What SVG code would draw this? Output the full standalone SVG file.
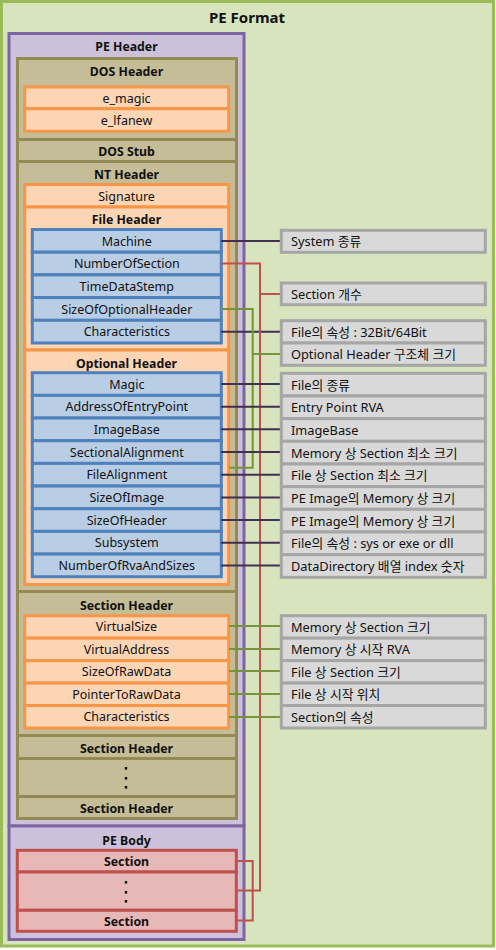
<svg xmlns="http://www.w3.org/2000/svg" width="496" height="950" viewBox="0 0 496 950">
<style>
text { font-family: "Noto Sans", "Noto Sans CJK KR", sans-serif; font-size: 12.5px; fill: #111; }
.c { text-anchor: middle; dominant-baseline: central; }
.l { dominant-baseline: central; font-size: 12.8px; }
.b { font-weight: bold; font-size: 12.3px; }
.t { font-weight: bold; font-size: 15px; }
.fmt { fill: #d7e4bd; stroke: #9bbb59; stroke-width: 3; }
.pe { fill: #ccc1da; stroke: #8064a2; stroke-width: 3; }
.tan { fill: #c4bd97; stroke: #948a54; stroke-width: 3; }
.or { fill: #fcd5b5; stroke: #f79646; stroke-width: 3; }
.bl { fill: #b9cde5; stroke: #4f81bd; stroke-width: 3; }
.rd { fill: #e6b9b8; stroke: #c0504d; stroke-width: 3; }
.gy { fill: #d9d9d9; stroke: #a6a6a6; stroke-width: 3; }
.wp { fill: none; stroke: #403152; stroke-width: 2; }
.wg { fill: none; stroke: #77933c; stroke-width: 2; }
.wr { fill: none; stroke: #c0504d; stroke-width: 2; }
.dot { fill: #111; }
</style>

<g id="pe-format">
  <rect class="fmt" x="1.5" y="1.5" width="492" height="944.5"/>
  <text class="c t" x="247" y="17">PE Format</text>
</g>

<g id="pe-header">
  <rect class="pe" x="9" y="33.5" width="235" height="792.5"/>
  <text class="c b" x="126.5" y="46">PE Header</text>
</g>

<g id="dos-header">
  <rect class="tan" x="17.5" y="58.5" width="219" height="81"/>
  <text class="c b" x="126.5" y="71">DOS Header</text>
</g>
<g id="e_magic">
  <rect class="or" x="24.7" y="87" width="204" height="21.7"/>
  <text class="c" x="126.5" y="98">e_magic</text>
</g>
<g id="e_lfanew">
  <rect class="or" x="24.7" y="108.7" width="204" height="22.6"/>
  <text class="c" x="126.5" y="120">e_lfanew</text>
</g>
<g id="dos-stub">
  <rect class="tan" x="17.5" y="139.5" width="219" height="22"/>
  <text class="c b" x="126.5" y="151">DOS Stub</text>
</g>
<g id="nt-header">
  <rect class="tan" x="17.5" y="161.5" width="219" height="430"/>
  <text class="c b" x="126.5" y="174">NT Header</text>
</g>
<g id="signature">
  <rect class="or" x="24.7" y="184.5" width="204" height="22.5"/>
  <text class="c" x="126.5" y="196">Signature</text>
</g>
<g id="file-header">
  <rect class="or" x="24.7" y="207" width="204" height="143"/>
  <text class="c b" x="126.5" y="219">File Header</text>
</g>
<g id="fh-machine"><rect class="bl" x="32.3" y="229.5" width="189" height="22.7"/><text class="c" x="126.8" y="241">Machine</text></g>
<g id="fh-numberofsection"><rect class="bl" x="32.3" y="252.2" width="189" height="22.7"/><text class="c" x="126.8" y="263.6">NumberOfSection</text></g>
<g id="fh-timedatestemp"><rect class="bl" x="32.3" y="274.9" width="189" height="22.7"/><text class="c" x="126.8" y="286.3">TimeDataStemp</text></g>
<g id="fh-sizeofoptionalheader"><rect class="bl" x="32.3" y="297.6" width="189" height="22.7"/><text class="c" x="126.8" y="309">SizeOfOptionalHeader</text></g>
<g id="fh-characteristics"><rect class="bl" x="32.3" y="320.3" width="189" height="22.7"/><text class="c" x="126.8" y="331.7">Characteristics</text></g>

<g id="optional-header">
  <rect class="or" x="24.7" y="350" width="204" height="234.5"/>
  <text class="c b" x="126.5" y="363">Optional Header</text>
</g>
<g id="oh-magic"><rect class="bl" x="32.3" y="372.7" width="189" height="22.67"/><text class="c" x="126.8" y="384">Magic</text></g>
<g id="oh-addressofentrypoint"><rect class="bl" x="32.3" y="395.37" width="189" height="22.67"/><text class="c" x="126.8" y="406.7">AddressOfEntryPoint</text></g>
<g id="oh-imagebase"><rect class="bl" x="32.3" y="418.04" width="189" height="22.67"/><text class="c" x="126.8" y="429.4">ImageBase</text></g>
<g id="oh-sectionalalignment"><rect class="bl" x="32.3" y="440.71" width="189" height="22.67"/><text class="c" x="126.8" y="452">SectionalAlignment</text></g>
<g id="oh-filealignment"><rect class="bl" x="32.3" y="463.38" width="189" height="22.67"/><text class="c" x="126.8" y="474.7">FileAlignment</text></g>
<g id="oh-sizeofimage"><rect class="bl" x="32.3" y="486.05" width="189" height="22.67"/><text class="c" x="126.8" y="497.4">SizeOfImage</text></g>
<g id="oh-sizeofheader"><rect class="bl" x="32.3" y="508.72" width="189" height="22.67"/><text class="c" x="126.8" y="520">SizeOfHeader</text></g>
<g id="oh-subsystem"><rect class="bl" x="32.3" y="531.39" width="189" height="22.67"/><text class="c" x="126.8" y="542.7">Subsystem</text></g>
<g id="oh-numberofrvaandsizes"><rect class="bl" x="32.3" y="554.06" width="189" height="22.67"/><text class="c" x="126.8" y="565.4">NumberOfRvaAndSizes</text></g>

<g id="section-header-1">
  <rect class="tan" x="17.5" y="591.5" width="219" height="144"/>
  <text class="c b" x="126.5" y="605">Section Header</text>
</g>
<g id="sh-virtualsize"><rect class="or" x="24.7" y="615.7" width="204" height="22.46"/><text class="c" x="126.5" y="626.9">VirtualSize</text></g>
<g id="sh-virtualaddress"><rect class="or" x="24.7" y="638.16" width="204" height="22.46"/><text class="c" x="126.5" y="649.4">VirtualAddress</text></g>
<g id="sh-sizeofrawdata"><rect class="or" x="24.7" y="660.62" width="204" height="22.46"/><text class="c" x="126.5" y="671.8">SizeOfRawData</text></g>
<g id="sh-pointertorawdata"><rect class="or" x="24.7" y="683.08" width="204" height="22.46"/><text class="c" x="126.5" y="694.3">PointerToRawData</text></g>
<g id="sh-characteristics"><rect class="or" x="24.7" y="705.54" width="204" height="22.46"/><text class="c" x="126.5" y="716.8">Characteristics</text></g>

<g id="section-header-2">
  <rect class="tan" x="17.5" y="735.5" width="219" height="23"/>
  <text class="c b" x="126.5" y="748.5">Section Header</text>
</g>
<g id="section-header-dots">
  <rect class="tan" x="17.5" y="758.5" width="219" height="38"/>
  <rect class="dot" x="124.8" y="767" width="2.4" height="2.6"/>
  <rect class="dot" x="124.8" y="777" width="2.4" height="2.6"/>
  <rect class="dot" x="124.8" y="786" width="2.4" height="2.6"/>
</g>
<g id="section-header-n">
  <rect class="tan" x="17.5" y="796.5" width="219" height="22"/>
  <text class="c b" x="126.5" y="808.5">Section Header</text>
</g>

<g id="pe-body">
  <rect class="pe" x="9" y="826" width="235" height="113.5"/>
  <text class="c b" x="126.5" y="840">PE Body</text>
</g>
<g id="section-1">
  <rect class="rd" x="17.3" y="850.3" width="219" height="21.7"/>
  <text class="c b" x="126.5" y="861.5">Section</text>
</g>
<g id="section-dots">
  <rect class="rd" x="17.3" y="872" width="219" height="38.3"/>
  <rect class="dot" x="124.8" y="881" width="2.4" height="2.6"/>
  <rect class="dot" x="124.8" y="891" width="2.4" height="2.6"/>
  <rect class="dot" x="124.8" y="900" width="2.4" height="2.6"/>
</g>
<g id="section-n">
  <rect class="rd" x="17.3" y="910.3" width="219" height="21"/>
  <text class="c b" x="126.5" y="921.3">Section</text>
</g>

<g id="connectors">
  <path class="wp" d="M221 241 H281"/>
  <path class="wp" d="M221 331.7 H281"/>
  <path class="wr" d="M221 263.5 H260 V890.5 H237 M260 294 H281"/>
  <path class="wr" d="M237 861 H252.7 V920.5 H237"/>
  <path class="wg" d="M221 309 H252.7 V467.7 H229 M252.7 354 H281"/>
  <path class="wp" d="M221 384 H281 M221 406.7 H281 M221 429.3 H281 M221 452 H281 M221 474.7 H281 M221 497.4 H281 M221 520 H281 M221 542.7 H281 M221 565.4 H281"/>
  <path class="wg" d="M229 626 H281 M229 649 H281 M229 671 H281 M229 694 H281 M229 717 H281"/>
</g>

<g id="label-system"><rect class="gy" x="281.3" y="230.3" width="204" height="22"/><text class="l" x="291" y="241.3">System 종류</text></g>
<g id="label-section-count"><rect class="gy" x="281.3" y="283" width="204" height="21.7"/><text class="l" x="291" y="294">Section 개수</text></g>
<g id="label-file-attr"><rect class="gy" x="281.3" y="320.7" width="204" height="22.3"/><text class="l" x="291" y="332">File의 속성 : 32Bit/64Bit</text></g>
<g id="label-optional-size"><rect class="gy" x="281.3" y="343" width="204" height="22.3"/><text class="l" x="291" y="354.2">Optional Header 구조체 크기</text></g>

<g id="label-file-kind"><rect class="gy" x="281.3" y="373.3" width="204" height="22.67"/><text class="l" x="291" y="384.6">File의 종류</text></g>
<g id="label-entry-point"><rect class="gy" x="281.3" y="395.97" width="204" height="22.67"/><text class="l" x="291" y="407.3">Entry Point RVA</text></g>
<g id="label-imagebase"><rect class="gy" x="281.3" y="418.64" width="204" height="22.67"/><text class="l" x="291" y="430">ImageBase</text></g>
<g id="label-mem-align"><rect class="gy" x="281.3" y="441.31" width="204" height="22.67"/><text class="l" x="291" y="452.6">Memory 상 Section 최소 크기</text></g>
<g id="label-file-align"><rect class="gy" x="281.3" y="463.98" width="204" height="22.67"/><text class="l" x="291" y="475.3">File 상 Section 최소 크기</text></g>
<g id="label-image-size"><rect class="gy" x="281.3" y="486.65" width="204" height="22.67"/><text class="l" x="291" y="498">PE Image의 Memory 상 크기</text></g>
<g id="label-header-size"><rect class="gy" x="281.3" y="509.32" width="204" height="22.67"/><text class="l" x="291" y="520.6">PE Image의 Memory 상 크기</text></g>
<g id="label-subsystem"><rect class="gy" x="281.3" y="531.99" width="204" height="22.67"/><text class="l" x="291" y="543.3">File의 속성 : sys or exe or dll</text></g>
<g id="label-rva-count"><rect class="gy" x="281.3" y="554.66" width="204" height="22.67"/><text class="l" x="291" y="566">DataDirectory 배열 index 숫자</text></g>

<g id="label-vsize"><rect class="gy" x="281.3" y="615.7" width="204" height="22.46"/><text class="l" x="291" y="626.9">Memory 상 Section 크기</text></g>
<g id="label-vaddr"><rect class="gy" x="281.3" y="638.16" width="204" height="22.46"/><text class="l" x="291" y="649.4">Memory 상 시작 RVA</text></g>
<g id="label-rawsize"><rect class="gy" x="281.3" y="660.62" width="204" height="22.46"/><text class="l" x="291" y="671.8">File 상 Section 크기</text></g>
<g id="label-rawptr"><rect class="gy" x="281.3" y="683.08" width="204" height="22.46"/><text class="l" x="291" y="694.3">File 상 시작 위치</text></g>
<g id="label-sec-attr"><rect class="gy" x="281.3" y="705.54" width="204" height="22.46"/><text class="l" x="291" y="716.8">Section의 속성</text></g>
</svg>
